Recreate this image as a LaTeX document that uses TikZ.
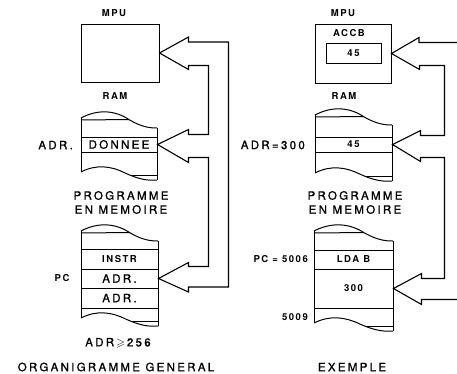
\documentclass[tikz,border=0pt]{standalone}
\usepackage{amssymb}
\usepackage{fontspec}
\setmainfont{TeX Gyre Heros}
\newfontfamily\grandfont[LetterSpace=20,FakeBold=1]{TeX Gyre Heros}
\newfontfamily\petitfont[LetterSpace=16]{TeX Gyre Heros}
\usepackage{tikz}
\usetikzlibrary{positioning,calc}

% bloc memoire dechire : #1,#2 = x gauche/droite, #3 = y haut, #4 = y bas
\newcommand{\rouleau}[4]{%
  \draw[trait] (#1,#3) -- (#1,#4);
  \draw[trait] (#2,{#3+10}) -- (#2,{#4+8});
  \draw[trait] (#1,#3) .. controls ({#1+0.22*(#2-#1)},{#3-9}) and ({#1+0.45*(#2-#1)},{#3-8}) .. ({#1+0.64*(#2-#1)},{#3+2})
                     .. controls ({#1+0.8*(#2-#1)},{#3+9}) and ({#1+0.9*(#2-#1)},{#3+10}) .. (#2,{#3+10});
  \draw[trait] (#1,{#3+2}) -- ({#1+0.63*(#2-#1)},{#3+1.5});
  \draw[trait] (#1,#4) .. controls ({#1+0.2*(#2-#1)},{#4-8}) and ({#1+0.4*(#2-#1)},{#4-6}) .. ({#1+0.58*(#2-#1)},{#4+1})
                     .. controls ({#1+0.75*(#2-#1)},{#4+7}) and ({#1+0.88*(#2-#1)},{#4+9}) .. (#2,{#4+8});
  \draw[trait] ({#1+0.65*(#2-#1)},{#4+3.2}) -- (#2,{#4+3.2});
}

\begin{document}
\begin{tikzpicture}[x=1pt, y=-1pt,
    trait/.style={line width=1pt},
    cell/.style={draw, line width=1pt, inner sep=0pt},
    grand/.style={font=\grandfont\fontsize{11.5}{14}\selectfont, inner sep=0pt},
    petit/.style={font=\petitfont\bfseries\fontsize{9.5}{11}\selectfont, inner sep=0pt},
    bus/.style={line width=1.1pt, line join=miter}]
    \useasboundingbox (0,0) rectangle (457,373);

    % Organigramme general
    \node[petit] (mpuLt) at (114,13) {MPU};
    \node[cell, minimum width=78pt, minimum height=58pt] (mpuL) at (120,53) {};
    \node[petit] (ramLt) at (115,96) {RAM};
    \rouleau{81}{157}{118}{172}
    \node[cell, grand, minimum width=76pt, minimum height=15pt] (donnee) at (119,144.5) {DONNEE};
    \node[grand, anchor=east] (adrL) at (73,145) {ADR.};
    \node[grand, align=center] (progL) at (121,202.5) {PROGRAMME\\EN MEMOIRE};
    \rouleau{81}{158}{231}{318}
    \node[cell, petit, minimum width=77pt, minimum height=20pt] (instr) at (119.5,259) {INSTR};
    \node[cell, grand, minimum width=77pt, minimum height=19pt] (adr1) at (119.5,278.5) {ADR.};
    \node[cell, grand, minimum width=77pt, minimum height=20pt] (adr2) at (119.5,298) {ADR.};
    \node[petit] (pcL) at (62,278) {PC};
    \node[grand] (seuil) at (118,343) {ADR\,$\geqslant$\,256};
    \node[grand] (titreL) at (116,367) {ORGANIGRAMME GENERAL};

    % Exemple
    \node[petit] (mpuRt) at (343,13) {MPU};
    \node[cell, minimum width=76pt, minimum height=59pt] (mpuR) at (353,53.5) {};
    \node[petit] (accbt) at (349,33) {ACCB};
    \node[cell, petit, minimum width=55pt, minimum height=20pt] (accb) at (353.5,53) {45};
    \node[petit] (ramRt) at (344,96) {RAM};
    \rouleau{315}{392}{115}{173}
    \node[cell, petit, minimum width=77pt, minimum height=15pt] (val45) at (353.5,144.5) {45};
    \node[grand, anchor=east] (adrR) at (305,145) {ADR=300};
    \node[grand, align=center] (progR) at (355,202.5) {PROGRAMME\\EN MEMOIRE};
    \rouleau{314}{393}{231}{323}
    \node[cell, petit, minimum width=79pt, minimum height=19pt] (lda) at (353.5,259.5) {LDA B};
    \node[cell, petit, minimum width=79pt, minimum height=39pt] (val300) at (353.5,288.5) {300};
    \node[petit, anchor=east] (pcR) at (308,259) {PC = 5006};
    \node[petit, anchor=east] (finR) at (308,317) {5009};
    \node[grand] (titreR) at (352,367) {EXEMPLE};

    % Bus (fleches creuses)
    \draw[bus] (mpuL.east) -- ++(29,-16) -- ++(0,5) -- ++(40,0) -- ++(0,245) -- ++(-40,0) -- ++(0,5)
        -- (adr1.east) -- ++(30,-16) -- ++(0,4) -- ++(20,0) -- ++(0,-109) -- ++(-20,0) -- ++(0,5)
        -- (donnee.east) -- ++(31,-15) -- ++(0,5) -- ++(20,0) -- ++(0,-69) -- ++(-20,0) -- ++(0,4) -- cycle;
    \coordinate (bordA) at (457,42.5);
    \coordinate (bordB) at (457,299.5);
    \draw[bus] (bordA) -- ++(-38,0) -- ++(0,-5) -- (mpuR.east) -- ++(28,16) -- ++(0,-4) -- ++(25,0) -- ++(0,70)
        -- ++(-24,0) -- ++(0,-5) -- (val45.east) -- ++(28,17) -- ++(0,-4) -- ++(24,0) -- ++(0,121)
        -- ++(-23,0) -- ++(0,-5) -- (val300.east) -- ++(28,16) -- ++(0,-5) -- (bordB);
\end{tikzpicture}
\end{document}
